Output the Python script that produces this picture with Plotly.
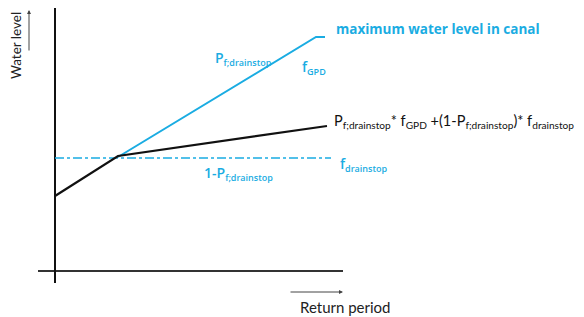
import plotly.graph_objects as go

# Conceptual data (units: arbitrary)
# x: return period, y: water level
black_x = [0, 63, 272]
black_y = [75, 115, 145]
gpd_x = [63, 261, 270]
gpd_y = [114, 234, 234]
drainstop_x = [0, 276]
drainstop_y = [113, 113]
xaxis_x = [-17, 288]
yaxis_y = [-12, 267]

CYAN = "#1AACE2"
BLACK = "#111111"

fig = go.Figure()
# axes
fig.add_trace(go.Scatter(x=xaxis_x, y=[0, 0], mode="lines",
                         line=dict(color="#333333", width=2), hoverinfo="skip"))
fig.add_trace(go.Scatter(x=[0, 0], y=yaxis_y, mode="lines",
                         line=dict(color=BLACK, width=2), hoverinfo="skip"))
# series
fig.add_trace(go.Scatter(x=drainstop_x, y=drainstop_y, mode="lines",
                         line=dict(color=CYAN, width=1.5, dash="dashdot"), hoverinfo="skip"))
fig.add_trace(go.Scatter(x=gpd_x, y=gpd_y, mode="lines",
                         line=dict(color=CYAN, width=2), hoverinfo="skip"))
fig.add_trace(go.Scatter(x=black_x, y=black_y, mode="lines",
                         line=dict(color=BLACK, width=2.2), hoverinfo="skip"))

F_BLUE = dict(family="Open Sans", size=14, color=CYAN, weight=600)
F_BLACK = dict(family="Lato", size=14.5, color=BLACK)


def sub(t, px=9):
    return f'<sub><span style="font-size:{px}px">{t}</span></sub>'


def lab(x, y, text, font, xanchor="left", **kw):
    fig.add_annotation(x=x, y=y, text=text, showarrow=False, xanchor=xanchor,
                       yanchor="middle", font=font, **kw)


lab(279, 242, "maximum water level in canal",
    dict(family="Open Sans", size=13.5, color=CYAN, weight=700))
lab(158, 213, "P" + sub("f;drainstop"), F_BLUE)
lab(245, 204, "f" + sub("GPD"), F_BLUE)
lab(277, 150, "P<sub>f;drainstop</sub>* f<sub>GPD</sub> +(1-P<sub>f;drainstop</sub>)* f<sub>drainstop</sub>", F_BLACK)
lab(283, 107, "f" + sub("drainstop"), F_BLUE)
lab(147, 98, "1-P" + sub("f;drainstop"), F_BLUE)
lab(-39, 225, "Water level", dict(family="Lato", size=13.5, color="#222222"),
    xanchor="center", textangle=-90)
lab(290, -36, "Return period", dict(family="Lato", size=15, color="#222222"), xanchor="center")

# arrows
fig.add_annotation(x=-26, y=261, ax=-26, ay=219, xref="x", yref="y", axref="x", ayref="y",
                   showarrow=True, arrowhead=2, arrowsize=0.8, arrowwidth=1,
                   arrowcolor="#444444", text="")
fig.add_annotation(x=288, y=-21, ax=234, ay=-21, xref="x", yref="y", axref="x", ayref="y",
                   showarrow=True, arrowhead=2, arrowsize=0.8, arrowwidth=1,
                   arrowcolor="#444444", text="")

# page body has an 8px default margin: figure sized/ranged to compensate
fig.update_layout(
    width=576, height=309, margin=dict(l=0, r=0, t=0, b=0),
    paper_bgcolor="white", plot_bgcolor="white", showlegend=False,
    xaxis=dict(range=[-47, 529], visible=False, fixedrange=True),
    yaxis=dict(range=[-46, 263], visible=False, fixedrange=True),
)
fig.write_html("out.html")
